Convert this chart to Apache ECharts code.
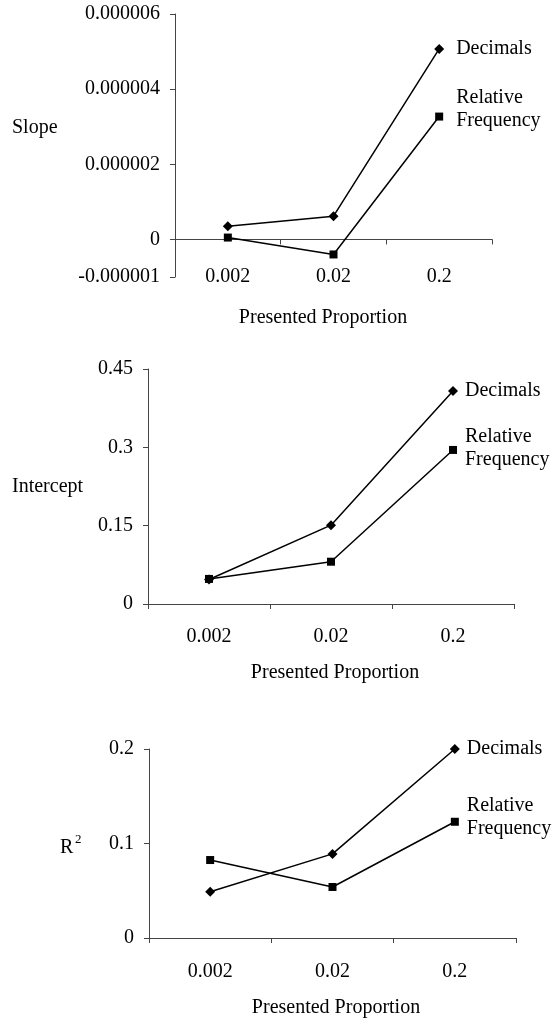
<!DOCTYPE html>
<html>
<head>
<meta charset="utf-8">
<script src="https://cdn.jsdelivr.net/npm/echarts@6/dist/echarts.min.js"></script>
<style>
  html, body { margin: 0; padding: 0; background: #fff; }
  #chart { width: 556px; height: 1021px; }
</style>
</head>
<body>
<div id="chart"></div>
<script>
// Presented proportions (x categories)
const proportions = ['0.002', '0.02', '0.2'];

// Slope of the fitted line for each format
const slopeDecimals = [3.5e-7, 6.2e-7, 5.07e-6];
const slopeRelFreq = [5e-8, -4.0e-7, 3.27e-6];

// Intercept
const interceptDecimals = [0.047, 0.151, 0.408];
const interceptRelFreq = [0.048, 0.081, 0.295];

// R squared
const r2Decimals = [0.049, 0.089, 0.2];
const r2RelFreq = [0.0825, 0.054, 0.123];

// Tick values for the slope axis (uneven range: -0.000001 .. 0.000006)
const slopeTicks = [-1e-6, 0, 2e-6, 4e-6, 6e-6];

const seriesNames = ['Decimals', 'Relative Frequency'];

const FONT = "'Liberation Serif', 'Times New Roman', serif";
const FS = 20;
const AXIS_COLOR = '#444';

const chart = echarts.init(document.getElementById('chart'), null, { renderer: 'canvas' });

const grids = [
  { left: 175, top: 14, width: 317, height: 263 },
  { left: 148, top: 369, width: 366, height: 235 },
  { left: 149, top: 749, width: 367, height: 189 }
];

function xAxisFor(i, margin) {
  return {
    type: 'category',
    gridIndex: i,
    data: proportions,
    boundaryGap: true,
    axisLine: { onZero: true, lineStyle: { color: AXIS_COLOR, width: 1 } },
    axisTick: { show: true, alignWithLabel: false, inside: false, length: 5, lineStyle: { color: AXIS_COLOR } },
    axisLabel: { color: '#000', fontFamily: FONT, fontSize: FS, margin: margin },
    splitLine: { show: false }
  };
}

function yAxisCommon(i) {
  return {
    type: 'value',
    gridIndex: i,
    axisLine: { show: true, lineStyle: { color: AXIS_COLOR, width: 1 } },
    axisTick: { show: true, inside: false, length: 5, lineStyle: { color: AXIS_COLOR } },
    axisLabel: { color: '#000', fontFamily: FONT, fontSize: FS, margin: 15 },
    splitLine: { show: false }
  };
}

const yAxes = [
  Object.assign(yAxisCommon(0), {
    min: -1e-6, max: 6e-6,
    axisTick: { show: true, inside: false, length: 5, lineStyle: { color: AXIS_COLOR }, customValues: slopeTicks },
    axisLabel: {
      color: '#000', fontFamily: FONT, fontSize: FS, margin: 15,
      customValues: slopeTicks,
      formatter: v => (Math.abs(v) < 1e-12 ? '0' : v.toFixed(6))
    }
  }),
  Object.assign(yAxisCommon(1), { min: 0, max: 0.45, interval: 0.15 }),
  Object.assign(yAxisCommon(2), { min: 0, max: 0.2, interval: 0.1 })
];

// per-panel placement of the end-of-line series names
const labelDistance = [17, 12, 12];
const freqOffset = [-7, -2, -5];

function lineSeries(name, data, idx, symbol, size) {
  return {
    name: name,
    type: 'line',
    xAxisIndex: idx,
    yAxisIndex: idx,
    data: data,
    symbol: symbol,
    symbolSize: size,
    showAllSymbol: true,
    clip: false,
    lineStyle: { color: '#000', width: 1.5 },
    itemStyle: { color: '#000' },
    animation: false,
    endLabel: {
      show: true,
      color: '#000',
      fontFamily: FONT,
      fontSize: FS,
      lineHeight: 23,
      distance: labelDistance[idx],
      offset: name === seriesNames[0] ? [0, 0] : [0, freqOffset[idx]],
      formatter: p => p.seriesName.replace(' ', '\n')
    }
  };
}

const panelData = [
  [slopeDecimals, slopeRelFreq],
  [interceptDecimals, interceptRelFreq],
  [r2Decimals, r2RelFreq]
];

const series = [];
panelData.forEach((pair, i) => {
  series.push(lineSeries(seriesNames[0], pair[0], i, 'diamond', 10));
  series.push(lineSeries(seriesNames[1], pair[1], i, 'rect', 8));
});

const textStyle = { fill: '#000', font: FS + 'px ' + FONT };

const graphics = [
  { type: 'text', x: 12, y: 128, style: Object.assign({ text: 'Slope', verticalAlign: 'middle' }, textStyle) },
  { type: 'text', x: 12, y: 487, style: Object.assign({ text: 'Intercept', verticalAlign: 'middle' }, textStyle) },
  { type: 'text', x: 60, y: 848, style: Object.assign({ text: 'R', verticalAlign: 'middle' }, textStyle) },
  { type: 'text', x: 75, y: 840, style: { text: '2', verticalAlign: 'middle', fill: '#000', font: '13px ' + FONT } },
  { type: 'text', x: 323, y: 318, style: Object.assign({ text: 'Presented Proportion', align: 'center', verticalAlign: 'middle' }, textStyle) },
  { type: 'text', x: 335, y: 673, style: Object.assign({ text: 'Presented Proportion', align: 'center', verticalAlign: 'middle' }, textStyle) },
  { type: 'text', x: 336, y: 1008, style: Object.assign({ text: 'Presented Proportion', align: 'center', verticalAlign: 'middle' }, textStyle) }
];

chart.setOption({
  backgroundColor: '#fff',
  animation: false,
  grid: grids,
  xAxis: [xAxisFor(0, -10), xAxisFor(1, 23), xAxisFor(2, 24)],
  yAxis: yAxes,
  series: series,
  graphic: graphics
});
</script>
</body>
</html>
